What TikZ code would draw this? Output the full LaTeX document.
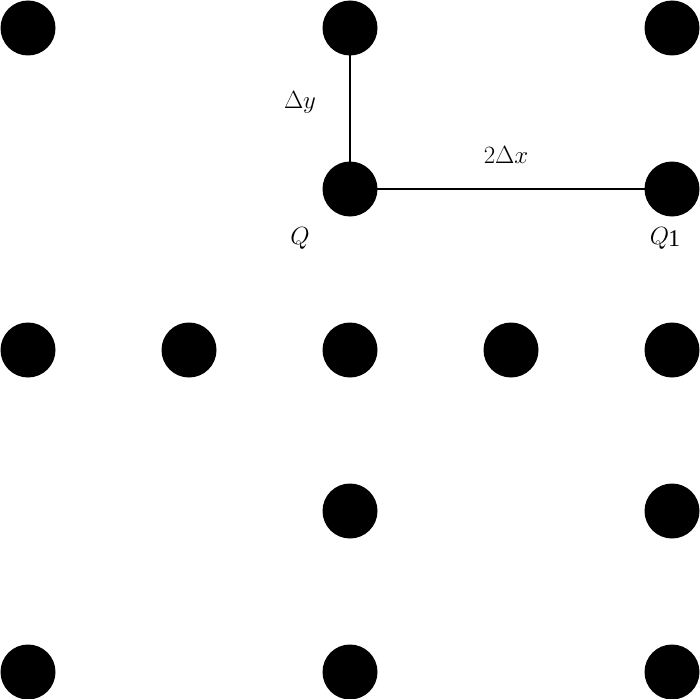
\documentclass[tikz,border=0pt]{standalone}
\usepackage{fontspec}
\setmainfont{Liberation Serif}
\begin{document}
\begin{tikzpicture}[x=1pt,y=-1pt,
  dot/.style={circle,fill=black,minimum size=55pt,inner sep=0pt},
  lab/.style={font=\fontsize{32}{36}\selectfont},
  con/.style={line width=2pt}]
\useasboundingbox (0,0) rectangle (700,698);
\foreach \n/\x/\y in {a/28/28,b/350/28,c/672/28,d/350/189,e/672/189,
  f/28/350,g/189/350,h/350/350,i/511/350,j/672/350,
  k/350/511,l/672/511,m/28/672,n/350/672,o/672/672}
  \node[dot] (\n) at (\x,\y) {};
\draw[con] (b.center) -- (d.center);
\draw[con] (d.center) -- (e.center);
\node[lab] (dy) at (300,102) {$\Delta y$};
\node[lab] (dx) at (506,155) {$2\Delta x$};
\node[lab] (q) at (300,238) {$Q$};
\node[lab] (q1) at (665,238) {$Q$\kern-1pt\raisebox{-2pt}{\fontsize{24}{26}\selectfont 1}};
\end{tikzpicture}
\end{document}
